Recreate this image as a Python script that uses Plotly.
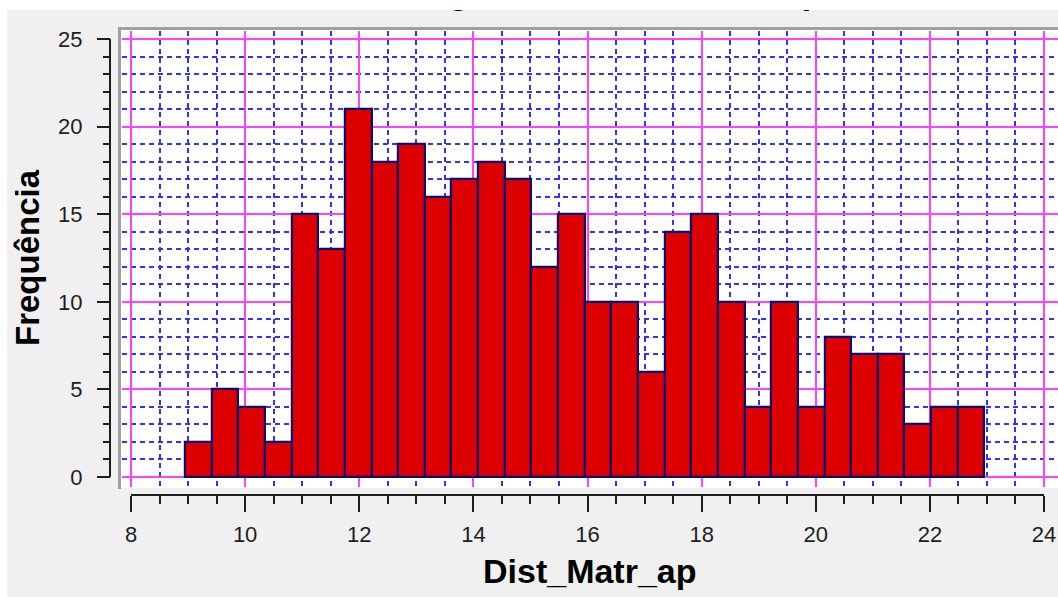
import numpy as np
import plotly.graph_objects as go

# ---------------- data ----------------
chart_title = "Histograma de Dist_Matr_ap"
x_title = "Dist_Matr_ap"
y_title = "Frequência"
bin_start = 8.946          # left edge of first class
bin_width = 0.467          # class width
counts = [2, 5, 4, 2, 15, 13, 21, 18, 19, 16, 17, 18, 17, 12, 15,
          10, 10, 6, 14, 15, 10, 4, 10, 4, 8, 7, 7, 3, 4, 4]
x_range = [7.8423, 24.2453]
y_range = [-0.571, 25.457]
x_axis_span = [8, 24]
y_axis_span = [0, 25]

# histogram class centres
edges = bin_start + bin_width * np.arange(len(counts) + 1)
centers = (edges[:-1] + edges[1:]) / 2

# ---------------- layout helpers ----------------
W, H = 1058, 597
def px(x):
    return x / W
def py(y):
    return 1 - y / H

MAGENTA = "#FF40FF"
BLUE = "#3030FF"
TICK = "#1E1E1E"
GRAYBG = "#F0F0F0"
FONT = "Liberation Sans"

fig = go.Figure()
fig.add_trace(go.Bar(
    x=centers, y=counts, width=bin_width,
    marker=dict(color="#DC0000", line=dict(color="#0A0A70", width=2.2)),
    xaxis="x", yaxis="y", hoverinfo="skip", showlegend=False))

# title (only its descenders show below the covering strip, as in the reference)
fig.add_trace(go.Scatter(
    x=[593], y=[-5], mode="text", text=[f"<b>{chart_title}</b>"],
    textposition="middle center",
    textfont=dict(family=FONT, size=34, color="black"),
    xaxis="x2", yaxis="y2", cliponaxis=True, hoverinfo="skip", showlegend=False))

minor_x = dict(dtick=0.5, tick0=0, ticks="outside", ticklen=8, tickwidth=2, tickcolor=TICK,
               showgrid=True, gridcolor=BLUE, gridwidth=2, griddash="5px,4px")
minor_y = dict(dtick=1, tick0=0, ticks="outside", ticklen=7, tickwidth=2, tickcolor=TICK,
               showgrid=True, gridcolor=BLUE, gridwidth=2, griddash="5px,4px")

fig.update_layout(
    width=W, height=H, template="none",
    margin=dict(l=0, r=0, t=0, b=0, pad=0),
    paper_bgcolor="white", plot_bgcolor="white",
    bargap=0, showlegend=False,
    xaxis=dict(domain=[px(122), 1], range=x_range, anchor="free", position=py(495),
               tickmode="linear", tick0=0, dtick=2, ticks="outside", ticklen=16,
               tickwidth=2, tickcolor=TICK, showline=False, zeroline=False,
               showgrid=True, gridcolor=MAGENTA, gridwidth=2,
               tickfont=dict(family=FONT, size=22, color=TICK),
               ticklabelstandoff=4, minor=minor_x, automargin=False, fixedrange=True),
    yaxis=dict(domain=[py(487), py(31)], range=y_range, anchor="free", position=px(110),
               side="left", tickmode="linear", tick0=0, dtick=5, ticks="outside", ticklen=13,
               tickwidth=2, tickcolor=TICK, showline=False, zeroline=False,
               showgrid=True, gridcolor=MAGENTA, gridwidth=2,
               tickfont=dict(family=FONT, size=22, color=TICK),
               ticklabelstandoff=10, minor=minor_y, automargin=False, fixedrange=True),
    xaxis2=dict(domain=[0, 1], range=[0, W], anchor="y2", visible=False, fixedrange=True),
    yaxis2=dict(domain=[py(28), py(10)], range=[28, 10], anchor="x2", visible=False, fixedrange=True),
)

shapes = [
    # form background (grey) below a white strip at top/left
    dict(type="rect", xref="paper", yref="paper", x0=px(7), x1=1, y0=0, y1=py(10),
         fillcolor=GRAYBG, line=dict(width=0), layer="below"),
    # plot area
    dict(type="rect", xref="paper", yref="paper", x0=px(121), x1=1, y0=py(488), y1=py(30),
         fillcolor="white", line=dict(width=0), layer="below"),
    # inset frame
    dict(type="line", xref="paper", yref="paper", x0=px(119.5), x1=px(119.5), y0=py(489), y1=py(27),
         line=dict(color="#A0A0A0", width=3), layer="below"),
    dict(type="line", xref="paper", yref="paper", x0=px(118), x1=1, y0=py(28.5), y1=py(28.5),
         line=dict(color="#A0A0A0", width=3), layer="below"),
    # axis lines (span only the data range)
    dict(type="line", xref="paper", yref="y", x0=px(110), x1=px(110),
         y0=y_axis_span[0], y1=y_axis_span[1], line=dict(color=TICK, width=2), layer="above"),
    dict(type="line", xref="x", yref="paper", x0=x_axis_span[0], x1=x_axis_span[1],
         y0=py(495), y1=py(495), line=dict(color=TICK, width=2), layer="above"),
]
fig.update_layout(shapes=shapes)

fig.add_annotation(text=f"<b>{x_title}</b>", xref="paper", yref="paper",
                   x=px(590), y=py(571), xanchor="center", yanchor="middle",
                   showarrow=False, font=dict(family=FONT, size=34, color="black"))
fig.add_annotation(text=f"<b>{y_title}</b>", xref="paper", yref="paper",
                   x=px(27), y=py(258), xanchor="center", yanchor="middle", textangle=-90,
                   showarrow=False, font=dict(family=FONT, size=33, color="black"))

fig.write_html("out.html", config={"displayModeBar": False},
               post_script="document.body.style.margin='0';document.body.style.overflow='hidden';")
